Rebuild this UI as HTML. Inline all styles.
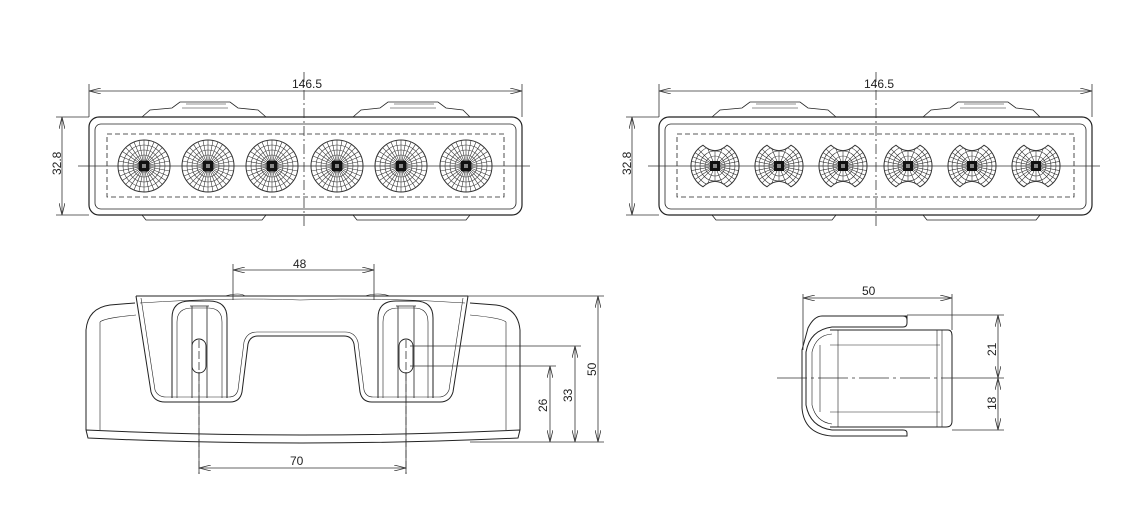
<!DOCTYPE html>
<html><head><meta charset="utf-8"><style>
html,body{margin:0;padding:0;background:#fff;}
svg{display:block;}
text{font-family:"Liberation Sans",sans-serif;font-size:12px;fill:#222;}
</style></head><body>
<svg width="1132" height="508" viewBox="0 0 1132 508" xmlns="http://www.w3.org/2000/svg">
<defs>
<marker id="ar" viewBox="0 0 12 6" refX="12" refY="3" markerWidth="12" markerHeight="6" orient="auto-start-reverse" markerUnits="userSpaceOnUse">
<path d="M0,0 L12,3 L0,6" fill="none" stroke="#333" stroke-width="0.8"/>
</marker>
<g id="lensA" fill="none" stroke="#333" stroke-width="0.6">
<circle r="26" stroke-width="1"/>
<circle r="21"/><circle r="16"/><circle r="11"/><circle r="6"/>
<path d="M0,-26V26M-26,0H26M-18.4,-18.4L18.4,18.4M18.4,-18.4L-18.4,18.4M-10,-24L10,24M10,-24L-10,24M-24,-10L24,10M24,-10L-24,10M-5,-25.5L5,25.5M5,-25.5L-5,25.5M-25.5,-5L25.5,5M25.5,-5L-25.5,5M-14.5,-21.6L14.5,21.6M14.5,-21.6L-14.5,21.6M-21.6,-14.5L21.6,14.5M21.6,-14.5L-21.6,14.5"/>
<rect x="-5" y="-5" width="10" height="10" fill="#111" stroke="none"/>
<rect x="-2" y="-2" width="4" height="4" fill="#888" stroke="none"/>
</g>
<clipPath id="cb"><path d="M-12,-20.8 Q0,-10 12,-20.8 A24,24 0 0 1 12,20.8 Q0,10 -12,20.8 A24,24 0 0 1 -12,-20.8Z"/></clipPath>
<g id="lensB" fill="none" stroke="#333" stroke-width="0.6">
<g clip-path="url(#cb)">
<circle r="20"/><circle r="15"/><circle r="10"/>
<path d="M0,-26V26M-26,0H26M-18.4,-18.4L18.4,18.4M18.4,-18.4L-18.4,18.4M-10,-24L10,24M10,-24L-10,24M-24,-10L24,10M24,-10L-24,10M-25.5,-5L25.5,5M25.5,-5L-25.5,5M-21.6,-14.5L21.6,14.5M21.6,-14.5L-21.6,14.5"/>
</g>
<path d="M-12,-20.8 Q0,-10 12,-20.8 A24,24 0 0 1 12,20.8 Q0,10 -12,20.8 A24,24 0 0 1 -12,-20.8Z" stroke-width="1"/>
<rect x="-5" y="-5" width="10" height="10" fill="#111" stroke="none"/>
<rect x="-2" y="-2" width="4" height="4" fill="#888" stroke="none"/>
</g>
<g id="front" fill="none" stroke="#222" stroke-width="1">
<!-- top tabs -->
<path d="M142,117 L150,110 L172,108 L180,102 L230,102 L238,108 L258,110 L266,117" stroke-width="0.8"/>
<path d="M182,108 H228 M186,104 H226" stroke-width="0.6"/>
<path d="M353,117 L361,110 L380,108 L388,102 L438,102 L446,108 L463,110 L470,117" stroke-width="0.8"/>
<path d="M390,108 H436 M394,104 H434" stroke-width="0.6"/>
<!-- bottom tabs -->
<path d="M142,215 L146,220 H262 L266,215 M353,215 L357,220 H466 L470,215" stroke-width="0.8"/>
<rect x="89" y="117" width="433" height="98" rx="10" stroke-width="1.2"/>
<rect x="95" y="124" width="421" height="85" rx="6" stroke-width="0.8"/>
<rect x="107" y="134" width="397" height="63" stroke-dasharray="5,3" stroke-width="0.8"/>
</g>
</defs>

<!-- ===== Top-left view ===== -->
<use href="#front"/>
<g fill="none" stroke="#333" stroke-width="0.8">
<line x1="304" y1="72" x2="304" y2="228" stroke-dasharray="10,3,2,3"/>
<line x1="78" y1="166" x2="530" y2="166"/>
<line x1="89" y1="84" x2="89" y2="117"/><line x1="522" y1="84" x2="522" y2="117"/>
<line x1="89" y1="91" x2="522" y2="91" marker-start="url(#ar)" marker-end="url(#ar)"/>
<line x1="56" y1="117" x2="89" y2="117"/><line x1="56" y1="215" x2="89" y2="215"/>
<line x1="62" y1="117" x2="62" y2="215" marker-start="url(#ar)" marker-end="url(#ar)"/>
</g>
<use href="#lensA" x="144" y="166"/><use href="#lensA" x="208" y="166"/><use href="#lensA" x="272" y="166"/>
<use href="#lensA" x="337" y="166"/><use href="#lensA" x="401" y="166"/><use href="#lensA" x="466" y="166"/>
<text x="292" y="88">146.5</text>
<text transform="translate(61,175) rotate(-90)">32.8</text>

<!-- ===== Top-right view ===== -->
<use href="#front" x="570"/>
<g fill="none" stroke="#333" stroke-width="0.8">
<line x1="876" y1="72" x2="876" y2="228" stroke-dasharray="10,3,2,3"/>
<line x1="648" y1="166" x2="1100" y2="166"/>
<line x1="659" y1="84" x2="659" y2="117"/><line x1="1092" y1="84" x2="1092" y2="117"/>
<line x1="659" y1="91" x2="1092" y2="91" marker-start="url(#ar)" marker-end="url(#ar)"/>
<line x1="626" y1="117" x2="659" y2="117"/><line x1="626" y1="215" x2="659" y2="215"/>
<line x1="632" y1="117" x2="632" y2="215" marker-start="url(#ar)" marker-end="url(#ar)"/>
</g>
<use href="#lensB" x="715" y="166"/><use href="#lensB" x="779" y="166"/><use href="#lensB" x="843" y="166"/>
<use href="#lensB" x="908" y="166"/><use href="#lensB" x="972" y="166"/><use href="#lensB" x="1036" y="166"/>
<text x="864" y="88">146.5</text>
<text transform="translate(631,175) rotate(-90)">32.8</text>

<!-- ===== Bottom-left view ===== -->
<g fill="none" stroke="#222" stroke-width="1">
<!-- body -->
<path d="M86,430 L86,330 Q88,308 110,305 L135,303"/>
<path d="M520,430 L520,330 Q518,308 496,305 L470,303"/>
<path d="M86,430 Q300,440 520,430 M86,430 L88,438 Q300,448 518,438 L520,430" />
<path d="M100,322 Q104,318 136,315 M506,322 Q502,318 470,315" stroke-width="0.6"/>
<path d="M100,322 V430 M506,322 V430" stroke-width="0.6"/>
<!-- bracket -->
<path d="M136,296 H468"/>
<path d="M136,296 L151,392 Q154,402 165,402 H230 Q240,402 242,392 L248,344 Q250,336 258,336 H344 Q352,336 354,344 L360,392 Q362,402 372,402 H440 Q450,402 453,392 L468,296"/>
<path d="M141,298 L155,390 Q158,397 166,397 H229 Q236,397 238,390 L244,342 Q247,332 257,332 H345 Q355,332 358,342 L364,390 Q366,397 373,397 H439 Q446,397 449,390 L463,298" stroke-width="0.6"/>
<!-- loops -->
<path d="M172,398 V318 Q172,301 190,301 H209 Q227,301 227,318 V398"/>
<path d="M177,398 V322 Q177,308 192,308 H208 Q222,308 222,322 V398" stroke-width="0.6"/>
<path d="M378,398 V318 Q378,301 396,301 H415 Q433,301 433,318 V398"/>
<path d="M383,398 V322 Q383,308 398,308 H414 Q428,308 428,322 V398" stroke-width="0.6"/>
<!-- slots -->
<path d="M192,398 V306 H207 V398 M190,306 H209" stroke-width="0.8"/>
<rect x="192" y="339" width="14" height="34" rx="7" stroke-width="0.9"/>
<path d="M398,398 V306 H414 V398 M396,306 H416" stroke-width="0.8"/>
<rect x="399" y="339" width="14" height="34" rx="7" stroke-width="0.9"/>
<path d="M140,303 Q230,297 300,300 M300,300 Q380,297 465,303" stroke-width="0.5"/>
<path d="M225,296 Q240,292 245,296 M365,296 Q378,292 390,296" stroke-width="0.6"/>
</g>
<g fill="none" stroke="#333" stroke-width="0.8">
<line x1="199" y1="340" x2="199" y2="474" stroke-dasharray="8,3"/>
<line x1="406" y1="340" x2="406" y2="474" stroke-dasharray="8,3"/>
<line x1="199" y1="372" x2="199" y2="474"/><line x1="406" y1="372" x2="406" y2="474"/>
<line x1="199" y1="468" x2="406" y2="468" marker-start="url(#ar)" marker-end="url(#ar)"/>
<line x1="233" y1="264" x2="233" y2="300"/><line x1="374" y1="264" x2="374" y2="300"/>
<line x1="233" y1="270" x2="374" y2="270" marker-start="url(#ar)" marker-end="url(#ar)"/>
<line x1="468" y1="296" x2="604" y2="296"/>
<line x1="410" y1="346" x2="581" y2="346"/>
<line x1="410" y1="366" x2="556" y2="366"/>
<line x1="470" y1="442" x2="604" y2="442"/>
<line x1="550" y1="366" x2="550" y2="442" marker-start="url(#ar)" marker-end="url(#ar)"/>
<line x1="575" y1="346" x2="575" y2="442" marker-start="url(#ar)" marker-end="url(#ar)"/>
<line x1="598" y1="296" x2="598" y2="442" marker-start="url(#ar)" marker-end="url(#ar)"/>
</g>
<text x="293" y="268">48</text>
<text x="290" y="465">70</text>
<text transform="translate(547,412) rotate(-90)">26</text>
<text transform="translate(572,402) rotate(-90)">33</text>
<text transform="translate(596,376) rotate(-90)">50</text>

<!-- ===== Bottom-right side view ===== -->
<g fill="none" stroke="#222" stroke-width="1">
<path d="M907,316 L907,323 Q907,327 903,327 H832 Q810,330 806,352 V405 Q810,427 832,430 H903 Q907,430 907,433 V436 L832,436 Q804,434 802,408 V350 L808,328 Q814,316 822,316 Z"/>
<path d="M822,316 H903 Q907,316 907,320" />
<path d="M830,330 H948 Q952,330 952,336 V421 Q952,427 946,427 H830" />
<path d="M812,352 Q816,335 832,334 M812,352 V405 Q816,422 832,424" stroke-width="0.6"/>
<path d="M830,345 H940 M830,412 H940 M838,330 V427 M937,330 V427 M942,330 V427" stroke-width="0.6"/>
<path d="M820,345 V412" stroke-width="0.6"/>
</g>
<g fill="none" stroke="#333" stroke-width="0.8">
<line x1="777" y1="378" x2="965" y2="378" stroke-dasharray="30,4,3,4"/>
<line x1="803" y1="294" x2="803" y2="350"/><line x1="952" y1="294" x2="952" y2="330"/>
<line x1="803" y1="298" x2="952" y2="298" marker-start="url(#ar)" marker-end="url(#ar)"/>
<line x1="907" y1="315" x2="1004" y2="315"/>
<line x1="965" y1="378" x2="1004" y2="378"/>
<line x1="952" y1="430" x2="1004" y2="430"/>
<line x1="998" y1="315" x2="998" y2="378" marker-start="url(#ar)" marker-end="url(#ar)"/>
<line x1="998" y1="378" x2="998" y2="430" marker-start="url(#ar)" marker-end="url(#ar)"/>
</g>
<text x="862" y="295">50</text>
<text transform="translate(996,356) rotate(-90)">21</text>
<text transform="translate(996,410) rotate(-90)">18</text>
</svg>
</body></html>
